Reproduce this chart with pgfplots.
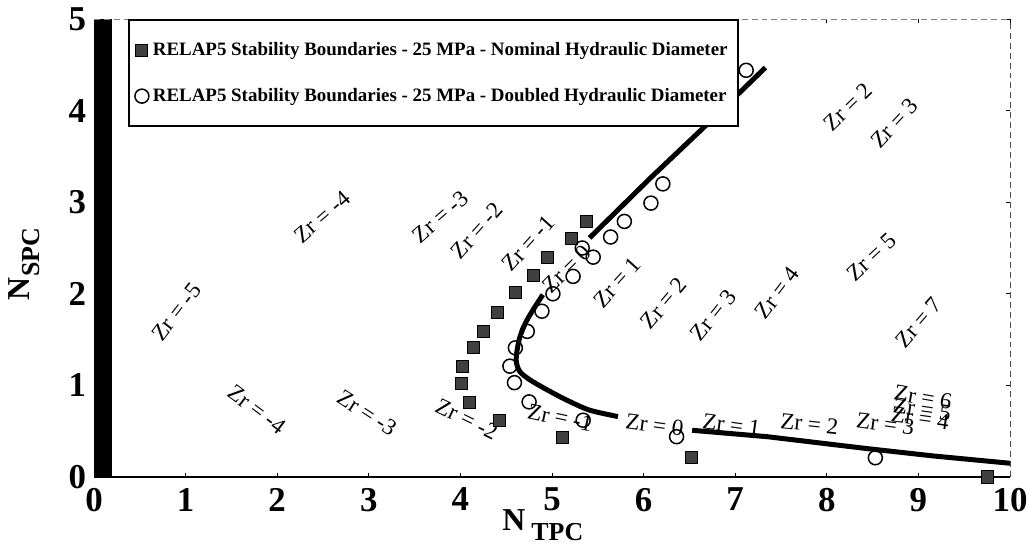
\documentclass[border=0pt]{standalone}
\usepackage{fontspec}
\setmainfont{Liberation Serif}
\usepackage{pgfplots}
\pgfplotsset{compat=1.18}
\begin{document}
\begin{tikzpicture}
\begin{axis}[
  x=45.8bp, y=45.8bp,
  xmin=0, xmax=10, ymin=0, ymax=5,
  xtick={0,1,...,10}, ytick={0,1,...,5},
  axis line style={draw=none},
  major tick length=2bp,
  tick style={black, thin},
  /pgf/number format/assume math mode=true,
  ticklabel style={font=\bfseries\fontsize{17.5}{20}\selectfont},
  xticklabel style={yshift=-2bp},
  yticklabel style={xshift=-0.5bp},
  xlabel={\bfseries\fontsize{16}{19}\selectfont N\hspace{3bp}\raisebox{-5bp}{\fontsize{13}{15}\selectfont TPC}},
  ylabel={\bfseries\fontsize{16}{19}\selectfont N\raisebox{-5bp}{\fontsize{13}{15}\selectfont SPC}},
  xlabel style={at={(axis description cs:0.49,0)}, anchor=center, yshift=-24bp},
  ylabel style={at={(axis description cs:-0.076,0.465)}, anchor=center},
  legend style={at={(rel axis cs:0.037,1)}, anchor=north west, draw=black, line width=1bp, fill=white,
    font=\bfseries\fontsize{9.5}{11.5}\selectfont, row sep=11bp, inner ysep=9bp, inner xsep=3bp},
  legend cell align=left,
  clip=false,
]
% left black bar
\addplot[fill=black, draw=none, forget plot] coordinates {(0,0) (0.2,0) (0.2,5) (0,5)} -- cycle;
% frame
\draw[line width=0.8bp] (rel axis cs:0,0) -- (rel axis cs:1,0);
\draw[densely dashed, gray, thin] (rel axis cs:0,1) -- (rel axis cs:1,1);
\draw[densely dashed, black!70, thin] (rel axis cs:1,0) -- (rel axis cs:1,1);

% solid stability curves
\addplot[black, line width=2.5bp, forget plot] coordinates {
 (5.41,2.61) (6.07,3.26) (6.64,3.80) (7.33,4.47)};
\addplot[black, line width=2.5bp, forget plot, smooth] coordinates {
 (4.90,1.99) (4.79,1.82) (4.71,1.68) (4.65,1.53) (4.62,1.39) (4.61,1.26)
 (4.65,1.15) (4.76,1.06) (4.95,0.95) (5.16,0.84) (5.41,0.73) (5.72,0.66)};
\addplot[black, line width=2.5bp, forget plot] coordinates {
 (6.53,0.51) (7.35,0.44) (8.44,0.31) (9.16,0.23) (10.0,0.15)};

% nominal diameter (squares)
\addplot[only marks, mark=square*, mark size=3bp,
  mark options={fill=black!75, draw=black, line width=0.5bp}] coordinates {
 (5.38,2.79) (5.21,2.60) (4.95,2.40) (4.80,2.20) (4.60,2.01) (4.40,1.80)
 (4.25,1.59) (4.14,1.41) (4.02,1.21) (4.01,1.02) (4.10,0.81) (4.43,0.62)
 (5.12,0.43) (6.52,0.21) (9.75,0.00)};
\addlegendentry{RELAP5 Stability Boundaries - 25 MPa - Nominal Hydraulic Diameter}

% doubled diameter (circles)
\addplot[only marks, mark=o, mark size=3.5bp,
  mark options={draw=black, fill=white, line width=0.75bp}] coordinates {
 (7.12,4.44) (6.21,3.20) (6.08,2.99) (5.79,2.79) (5.64,2.62) (5.33,2.50)
 (5.45,2.40) (5.23,2.19) (5.01,2.00) (4.89,1.81) (4.73,1.59) (4.60,1.41)
 (4.54,1.21) (4.59,1.03) (4.75,0.82) (5.34,0.62) (6.36,0.44) (8.53,0.21)};
\addlegendentry{RELAP5 Stability Boundaries - 25 MPa - Doubled Hydraulic Diameter}

% Zr labels
\begin{scope}[every node/.style={font=\fontsize{11.6}{13}\selectfont, inner sep=0pt}]
\node[rotate=52] at (axis cs:0.90,1.80) {Zr = -5};
\node[rotate=41] at (axis cs:2.49,2.84) {Zr = -4};
\node[rotate=41] at (axis cs:3.78,2.84) {Zr = -3};
\node[rotate=48] at (axis cs:4.18,2.69) {Zr = -2};
\node[rotate=48] at (axis cs:4.74,2.55) {Zr = -1};
\node[rotate=45] at (axis cs:5.16,2.27) {Zr = 0};
\node[rotate=48] at (axis cs:5.71,2.12) {Zr = 1};
\node[rotate=50] at (axis cs:6.22,1.90) {Zr = 2};
\node[rotate=51] at (axis cs:6.76,1.77) {Zr = 3};
\node[rotate=53] at (axis cs:7.46,2.01) {Zr = 4};
\node[rotate=43] at (axis cs:8.49,2.40) {Zr = 5};
\node[rotate=49] at (axis cs:9.00,1.69) {Zr = 7};
\node[rotate=44] at (axis cs:8.23,4.04) {Zr = 2};
\node[rotate=47] at (axis cs:8.74,3.86) {Zr = 3};
\node[rotate=-37] at (axis cs:1.78,0.74) {Zr = -4};
\node[rotate=-33] at (axis cs:2.98,0.70) {Zr = -3};
\node[rotate=-26] at (axis cs:4.07,0.63) {Zr = -2};
\node[rotate=-12] at (axis cs:5.09,0.65) {Zr = -1};
\node[rotate=-8] at (axis cs:6.12,0.57) {Zr = 0};
\node[rotate=-8] at (axis cs:6.96,0.57) {Zr = 1};
\node[rotate=-6] at (axis cs:7.81,0.58) {Zr = 2};
\node[rotate=-8] at (axis cs:8.64,0.58) {Zr = 3};
\node[rotate=-8] at (axis cs:9.02,0.64) {Zr = 4};
\node[rotate=-8] at (axis cs:9.04,0.74) {Zr = 5};
\node[rotate=-10] at (axis cs:9.05,0.87) {Zr = 6};
\end{scope}
\end{axis}
\pgfresetboundingbox
\path ([shift={(-47bp,-36bp)}]current axis.south west) rectangle ([shift={(9.5bp,9.5bp)}]current axis.north east);
\end{tikzpicture}
\end{document}
